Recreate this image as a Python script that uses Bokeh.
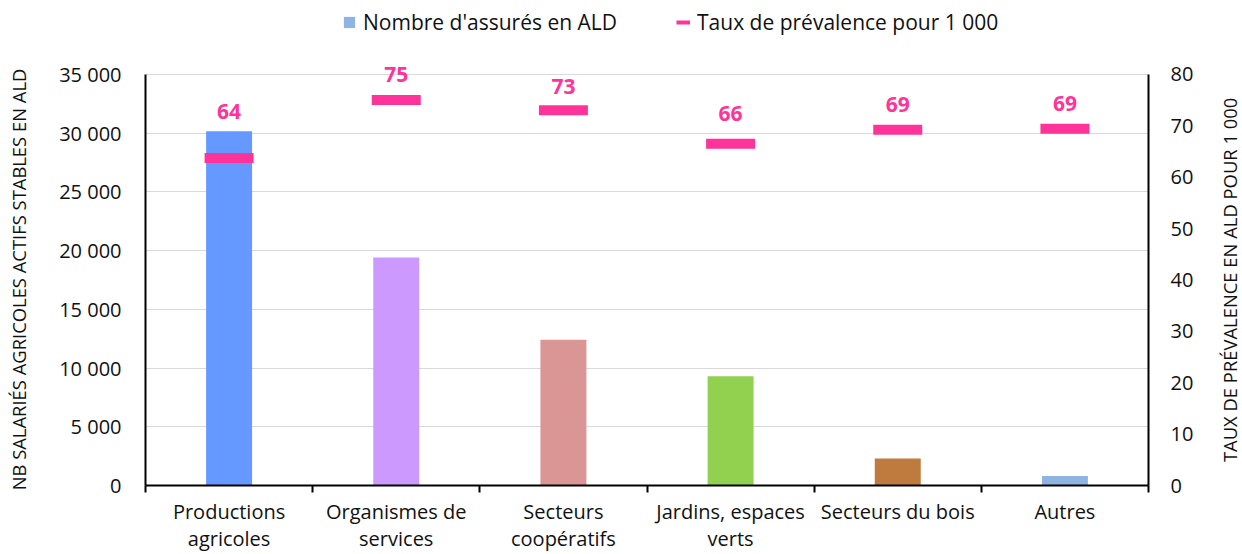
import math
from bokeh.plotting import figure
from bokeh.models import (ColumnDataSource, Range1d, LinearAxis, FixedTicker,
                          Legend, LegendItem, Label)
from bokeh.embed import file_html
from bokeh.resources import INLINE

# ---------------- data ----------------
categories = ["Productions\nagricoles", "Organismes de\nservices", "Secteurs\ncoopératifs",
              "Jardins, espaces\nverts", "Secteurs du bois", "Autres"]
nb_assures = [30150, 19400, 12400, 9300, 2300, 800]
taux = [63.7, 75.0, 73.0, 66.5, 69.2, 69.4]
taux_labels = ["64", "75", "73", "66", "69", "69"]
left_ticks = [0, 5000, 10000, 15000, 20000, 25000, 30000, 35000]
right_ticks = [0, 10, 20, 30, 40, 50, 60, 70, 80]

# ---------------- style ----------------
bar_colors = ["#6699FF", "#CC99FF", "#D99694", "#92D050", "#BE7B3D", "#8DB4E2"]
label_lift = [47, 26, 24, 30, 25, 25]   # label offsets (px) above markers
PINK = "#FF3399"
FONT = "Open Sans"
TXT = "#111111"
AXIS_PX = 412      # pixel height of the value axes
HEADROOM_PX = 74   # room above the top tick (legend + labels)
head = (AXIS_PX + HEADROOM_PX) / AXIS_PX

xs = list(range(len(categories)))
src = ColumnDataSource(dict(x=xs, nb=nb_assures, taux=taux, color=bar_colors))

p = figure(width=1242, height=554,
           x_range=Range1d(-0.5, len(categories) - 0.5),
           y_range=Range1d(0, left_ticks[-1] * head),
           output_backend="svg", toolbar_location=None,
           min_border_left=145, min_border_right=94,
           min_border_top=0, min_border_bottom=68)
p.outline_line_color = None
p.background_fill_color = "white"
p.extra_y_ranges = {"taux": Range1d(0, right_ticks[-1] * head)}

bars = p.vbar(x="x", top="nb", width=0.275, color="color", line_color=None, source=src)
p.rect(x="x", y="taux", width=0.293, height=10, height_units="screen",
       fill_color=PINK, line_color=None, y_range_name="taux", source=src)
# hidden line, only used to draw the legend's short pink dash
legend_line = p.line(x="x", y="taux", source=src, y_range_name="taux",
                     line_color=PINK, line_width=4, visible=False)

for xi, ti, lab, lift in zip(xs, taux, taux_labels, label_lift):
    p.add_layout(Label(x=xi, y=ti, y_range_name="taux", text=lab, y_offset=lift,
                       text_align="center", text_baseline="middle",
                       text_font=FONT, text_font_size="21px", text_font_style="bold",
                       text_color=PINK))

# x axis
xa = p.xaxis[0]
xa.ticker = FixedTicker(ticks=xs, minor_ticks=[i - 0.5 for i in range(len(categories) + 1)])
xa.major_label_overrides = {i: c for i, c in enumerate(categories)}
xa.major_tick_line_color = None
xa.major_tick_out = 0
xa.major_tick_in = 0
xa.minor_tick_line_color = "black"
xa.minor_tick_line_width = 2
xa.minor_tick_out = 7
xa.minor_tick_in = 0
xa.axis_line_color = "black"
xa.axis_line_width = 2
xa.major_label_standoff = 5
xa.major_label_text_font = FONT
xa.major_label_text_font_size = "20px"
xa.major_label_text_color = TXT
xa.major_label_text_line_height = 1.0
p.xgrid.grid_line_color = None

# left axis
ya = p.yaxis[0]
ya.ticker = FixedTicker(ticks=left_ticks)
ya.bounds = (left_ticks[0], left_ticks[-1])
ya.major_label_overrides = {t: f"{t:,}".replace(",", " ") for t in left_ticks}
ya.major_tick_line_color = None
ya.major_tick_out = 0
ya.major_tick_in = 0
ya.minor_tick_line_color = None
ya.axis_line_color = "black"
ya.axis_line_width = 2
ya.major_label_standoff = 24
ya.major_label_text_font = FONT
ya.major_label_text_font_size = "20px"
ya.major_label_text_color = TXT
p.ygrid.ticker = FixedTicker(ticks=left_ticks)
p.ygrid.grid_line_color = "#D9D9D9"
p.ygrid.grid_line_width = 1

# right axis
ra = LinearAxis(y_range_name="taux", ticker=FixedTicker(ticks=right_ticks))
ra.bounds = (right_ticks[0], right_ticks[-1])
ra.major_tick_line_color = None
ra.major_tick_out = 0
ra.major_tick_in = 0
ra.minor_tick_line_color = None
ra.axis_line_color = "black"
ra.axis_line_width = 2
ra.major_label_standoff = 22
ra.major_label_text_font = FONT
ra.major_label_text_font_size = "20px"
ra.major_label_text_color = TXT
p.add_layout(ra, "right")

# axis titles (both read bottom-to-top, like the reference)
title_kw = dict(angle=math.pi / 2, text_align="center", text_baseline="middle",
                x_units="canvas", y_units="canvas",
                text_font=FONT, text_font_size="18.4px", text_color=TXT)
p.add_layout(Label(x=18, y=279, text="NB SALARIÉS AGRICOLES ACTIFS STABLES EN ALD",
                   **title_kw), "left")
p.add_layout(Label(x=1229, y=277, text="TAUX DE PRÉVALENCE  EN ALD POUR 1 000",
                   **title_kw), "right")

legend = Legend(items=[LegendItem(label="Nombre d'assurés en ALD", renderers=[bars], index=5),
                       LegendItem(label="Taux de prévalence pour 1 000", renderers=[legend_line])],
                orientation="horizontal", location=(197, 449),
                glyph_width=14, glyph_height=14, label_standoff=7, spacing=59,
                padding=0, margin=0, border_line_color=None, background_fill_alpha=0,
                inactive_fill_alpha=0,
                label_text_font=FONT, label_text_font_size="21px", label_text_color=TXT)
p.add_layout(legend)

open("out.html", "w").write(file_html(p, INLINE))
